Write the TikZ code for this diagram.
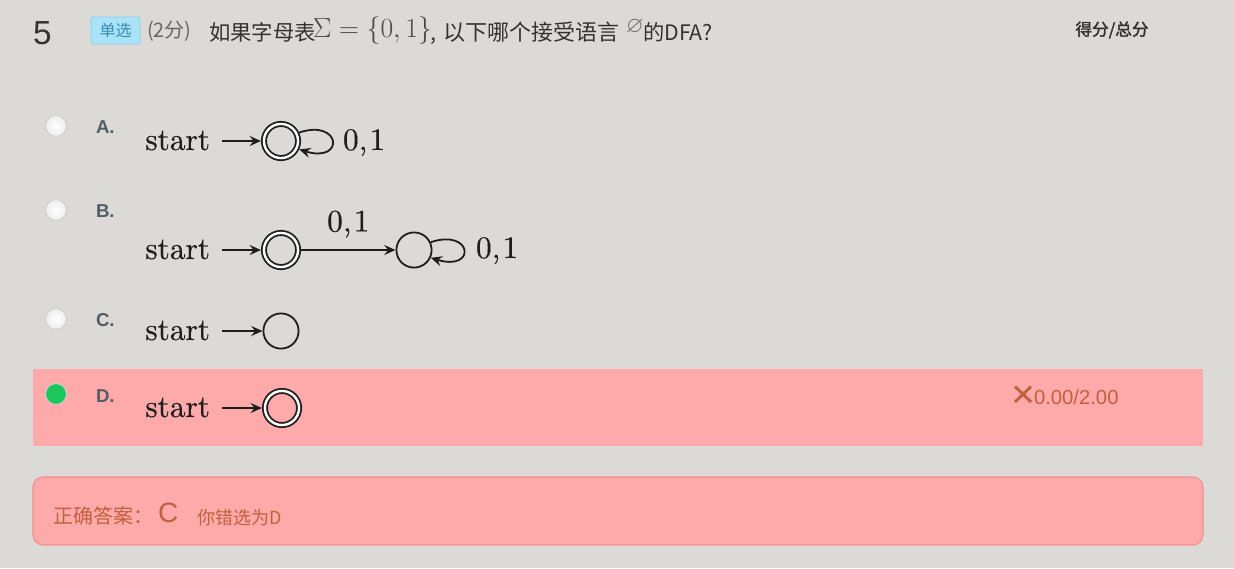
\RequirePackage{fix-cm}
\documentclass[tikz,border=0pt]{standalone}
\usepackage{amssymb}
\usepackage[no-math]{fontspec}
\usetikzlibrary{arrows.meta}
\newfontfamily\cjk{Noto Sans CJK SC}
\newfontfamily\cjkb[FakeBold=2]{Noto Sans CJK SC}
\newfontfamily\lib{Liberation Sans}
\newfontfamily\lmten[FakeBold=0.35]{lmroman10-regular.otf}
\definecolor{bg}{HTML}{DBDAD6}
\definecolor{wrongbg}{HTML}{FFAAAA}
\definecolor{ansborder}{HTML}{F28E8E}
\definecolor{tx}{HTML}{333333}
\definecolor{subtx}{HTML}{666666}
\definecolor{mathgray}{HTML}{4A4A4A}
\definecolor{badgefill}{HTML}{A9E3F7}
\definecolor{badgeline}{HTML}{8ACFEA}
\definecolor{badgetx}{HTML}{3A8BB2}
\definecolor{optletter}{HTML}{535D67}
\definecolor{radioline}{HTML}{CFCFCF}
\definecolor{radiogreen}{HTML}{1DC65A}
\definecolor{errtx}{HTML}{C0603C}
\definecolor{ink}{HTML}{1E1E1E}
\tikzset{
  plain/.style={inner sep=0pt, outer sep=0pt},
  ttl/.style={plain, anchor=base west, font=\cjk\fontsize{16}{19}\selectfont, text=tx},
  badge/.style={draw=badgeline, fill=badgefill, rounded corners=1.5pt, line width=0.6pt,
    text=badgetx, font=\cjk\fontsize{12}{14}\selectfont, minimum width=36.75pt,
    minimum height=20.25pt, inner sep=0pt},
  radio/.style={circle, minimum size=15.75pt, inner sep=0pt, draw=radioline, line width=0.75pt,
    inner color=white, outer color=black!7},
  optl/.style={plain, anchor=west, font=\lib\bfseries\fontsize{14}{16}\selectfont, text=optletter},
  starttxt/.style={plain, anchor=base east, font=\lmten\fontsize{23.5}{26}\selectfont, text=ink},
  lab/.style={plain, font=\lmten\fontsize{23.5}{26}\selectfont, text=ink},
  dfastate/.style={circle, draw=ink, line width=1.35pt, minimum size=26.4pt, inner sep=0pt},
  dfaacc/.style={dfastate, minimum size=25.6pt, double=white, double distance=1.8pt, outer sep=2.25pt},
  trans/.style={draw=ink, line width=1.35pt, -{Stealth[length=8.5pt,width=7.5pt,inset=3pt]}},
  initedge/.style={trans, shorten <=9pt},
  anstx/.style={plain, font=\cjk\fontsize{13.5}{16}\selectfont, text=errtx},
}
\begin{document}
\begin{tikzpicture}[x=0.75pt,y=-0.75pt]
\useasboundingbox[fill=bg] (0,0) rectangle (1234,568);
% title
\node[plain, anchor=base west, font=\lib\fontsize{25}{28}\selectfont, text=tx] (qnum) at (33,44) {5};
\node[badge] (badge) at (115.5,30.5) {单选};
\node[plain, anchor=west, font=\cjk\fontsize{15}{18}\selectfont, text=subtx] (pts) at (147,31) {(2分)};
\node[ttl] (t1) at (209,40) {如果字母表};
\node[plain, anchor=base west, font=\fontsize{20.74}{24}\selectfont, text=mathgray] (t2) at (313,37) {$\Sigma=\{0,1\}$};
\node[ttl] (t3) at (430,40) {,};
\node[ttl, font=\cjk\fontsize{16.5}{19}\selectfont] (t3b) at (443,40) {以下哪个接受语言};
\node[plain, anchor=base west, font=\fontsize{17}{19}\selectfont, text=subtx] (t4) at (626,32) {$\varnothing$};
\node[ttl] (t5) at (643,40) {的DFA?};
\node[plain, font=\cjkb\fontsize{12.5}{15}\selectfont, text=tx] (hdr) at (1112,30) {得分/总分};
% option A
\node[radio] (ra) at (56,126) {};
\node[optl] (la) at (96,127) {A.};
\node[dfaacc] (qa) at (281,141) {};
\node[starttxt] (sa) at (210,150) {start};
\draw[initedge] (sa.east |- qa.west) -- (qa.west);
\draw[trans] (qa.25) .. controls +(42,-14) and +(46,14) .. (qa.-25);
\node[lab, anchor=base west] (la1) at (343,150) {0,\kern0.07em1};
% option B
\node[radio] (rb) at (56,210) {};
\node[optl] (lb) at (96,211) {B.};
\node[dfaacc] (qb0) at (281,250) {};
\node[dfastate] (qb1) at (414,250) {};
\node[starttxt] (sb) at (210,259) {start};
\draw[initedge] (sb.east |- qb0.west) -- (qb0.west);
\draw[trans] (qb0) -- node[lab, anchor=base, yshift=13.9pt]{0,\kern0.07em1} (qb1);
\draw[trans] (qb1.25) .. controls +(42,-14) and +(46,14) .. (qb1.-25);
\node[lab, anchor=base west] (lb2) at (476,258) {0,\kern0.07em1};
% option C
\node[radio] (rc) at (56,319) {};
\node[optl] (lc) at (96,320) {C.};
\node[dfastate] (qc) at (281,331) {};
\node[starttxt] (sc) at (210,340) {start};
\draw[initedge] (sc.east |- qc.west) -- (qc.west);
% option D
\fill[wrongbg] (33,369) rectangle (1203,446);
\node[radio, inner color=radiogreen, outer color=radiogreen] (rd) at (56,394) {};
\node[optl] (ld) at (96,396) {D.};
\node[dfaacc] (qd) at (282,408) {};
\node[starttxt] (sd) at (210,417) {start};
\draw[initedge] (sd.east |- qd.west) -- (qd.west);
\draw[errtx, line width=2.2pt] (1015,386.5) -- (1031,402) (1031,386.5) -- (1015,402);
\node[plain, anchor=base west, font=\lib\fontsize{15.2}{17}\selectfont, text=errtx] (scr) at (1034,404) {0.00/2.00};
% answer box
\draw[ansborder, fill=wrongbg, line width=0.8pt, rounded corners=7.5pt] (33,477) rectangle (1203,545);
\node[plain, anchor=west, font=\cjk\fontsize{15}{18}\selectfont, text=errtx] (ans1) at (53,516) {正确答案：};
\node[plain, anchor=base west, font=\lib\fontsize{21}{24}\selectfont, text=errtx] (ansc) at (158,522) {C};
\node[anstx, anchor=west] (ans2) at (197,518) {你错选为D};
\end{tikzpicture}
\end{document}
